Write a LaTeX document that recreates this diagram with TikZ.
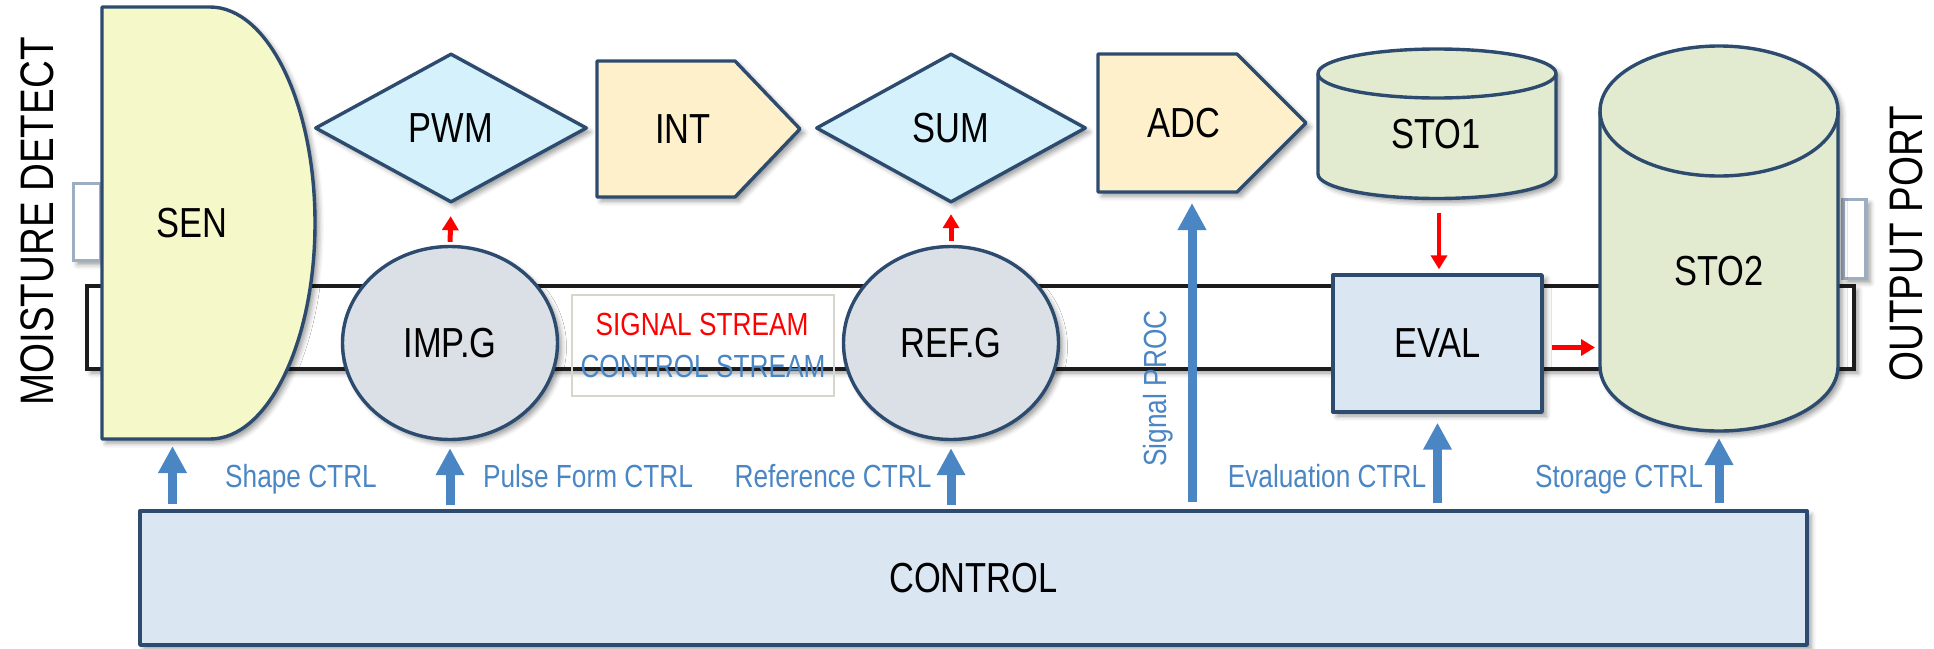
\documentclass[tikz,border=0pt]{standalone}
\usepackage{fontspec}
\setmainfont{Liberation Sans}[FakeStretch=0.82]
\usetikzlibrary{arrows.meta,shapes.geometric,shadows.blur}
\definecolor{bord}{HTML}{2C4B6E}
\definecolor{cblue}{HTML}{4A86C4}
\definecolor{senfill}{HTML}{F5F8C8}
\definecolor{diafill}{HTML}{D4F1FC}
\definecolor{sigfill}{HTML}{FFF0CC}
\definecolor{cylfill}{HTML}{E2EBCF}
\definecolor{ellfill}{HTML}{DBE0E6}
\definecolor{boxfill}{HTML}{DAE6F2}
\definecolor{portbord}{HTML}{9DAEC2}
\definecolor{legbord}{HTML}{D6D6CE}
\definecolor{bandline}{HTML}{1C1C1C}
\begin{document}
\begin{tikzpicture}[x=1pt,y=-1pt,
  shad/.style={blur shadow={shadow xshift=4pt,shadow yshift=-4pt,shadow blur radius=5pt,shadow opacity=40}},
  shp/.style={draw=bord,line width=3.4pt,line join=round,shad},
  hold/.style={draw=none,inner sep=0pt,outer sep=0pt,rectangle},
  main/.style={font=\fontsize{42}{42}\selectfont,inner sep=0pt},
  sm/.style={font=\fontsize{32}{32}\selectfont,anchor=base,inner sep=0pt,text=cblue},
  side/.style={font=\fontsize{47}{47}\selectfont,anchor=base,inner sep=0pt,rotate=90},
  ctrlarr/.style={draw=cblue,line width=9pt,-{Triangle[width=27pt,length=27pt]}},
  sigarr/.style={draw=red,line width=5pt,-{Triangle[width=16pt,length=14pt]}}
]
\useasboundingbox (0,0) rectangle (1934,648);

% band
\node[hold,draw=bandline,line width=3.6pt,fill=white,shad,minimum width=1767pt,minimum height=83pt] (band) at (970.5,327.5) {};

% ports
\node[hold,draw=portbord,line width=3.6pt,fill=white,shad,minimum width=27pt,minimum height=77pt] (pin) at (87,222) {};
\node[hold,draw=portbord,line width=3.6pt,fill=white,shad,minimum width=23pt,minimum height=79pt] (pout) at (1854.5,239) {};

% SEN
\path[shp,fill=senfill] (102,7) -- (210,7) .. controls (268,7) and (315,104) .. (315,223) .. controls (315,342) and (268,439) .. (210,439) -- (102,439) -- cycle;
\node[hold,minimum width=213pt,minimum height=432pt] (sen) at (208.5,223) {};
\node[main] (sentext) at (192,223) {SEN};

% diamonds
\node[diamond,shp,fill=diafill,minimum width=272pt,minimum height=149pt,inner sep=0pt,font=\fontsize{42}{42}\selectfont] (pwm) at (451,128) {PWM};
\node[diamond,shp,fill=diafill,minimum width=270pt,minimum height=149pt,inner sep=0pt,font=\fontsize{42}{42}\selectfont] (sum) at (951,128) {SUM};

% signal shapes
\path[shp,fill=sigfill] (597,61) -- (735,61) -- (800,129) -- (735,197) -- (597,197) -- cycle;
\node[main] (int) at (683,129) {INT};
\path[shp,fill=sigfill] (1098,54) -- (1237,54) -- (1306,123) -- (1237,192) -- (1098,192) -- cycle;
\node[hold,minimum width=208pt,minimum height=138pt] (adc) at (1202,123) {};
\node[main] (adctext) at (1184,123) {ADC};

% cylinders
\path[shp,fill=cylfill] (1318,73.5) -- (1318,174) .. controls (1318,187.5) and (1371.3,198.5) .. (1437,198.5) .. controls (1502.7,198.5) and (1556,187.5) .. (1556,174) -- (1556,73.5) .. controls (1556,60) and (1502.7,49) .. (1437,49) .. controls (1371.3,49) and (1318,60) .. (1318,73.5) -- cycle;
\draw[draw=bord,line width=3.4pt] (1318,73.5) .. controls (1318,87) and (1371.3,98) .. (1437,98) .. controls (1502.7,98) and (1556,87) .. (1556,73.5);
\node[hold,minimum width=238pt,minimum height=149.5pt] (sto1) at (1437,123.75) {};
\node[main] (sto1text) at (1436,134) {STO1};

\path[shp,fill=cylfill] (1600,111) -- (1600,366) .. controls (1600,401.9) and (1653.3,431) .. (1719,431) .. controls (1784.7,431) and (1838,401.9) .. (1838,366) -- (1838,111) .. controls (1838,75.1) and (1784.7,46) .. (1719,46) .. controls (1653.3,46) and (1600,75.1) .. (1600,111) -- cycle;
\draw[draw=bord,line width=3.4pt] (1600,111) .. controls (1600,146.9) and (1653.3,176) .. (1719,176) .. controls (1784.7,176) and (1838,146.9) .. (1838,111);
\node[hold,minimum width=238pt,minimum height=385pt] (sto2) at (1719,238.5) {};
\node[main] (sto2text) at (1719,271) {STO2};

% ellipses
\node[ellipse,shp,fill=ellfill,minimum width=215pt,minimum height=193pt,inner sep=0pt,font=\fontsize{42}{42}\selectfont] (imp) at (450,343) {IMP.G};
\node[ellipse,shp,fill=ellfill,minimum width=215pt,minimum height=193pt,inner sep=0pt,font=\fontsize{42}{42}\selectfont] (ref) at (951,343) {REF.G};

% boxes
\node[rectangle,shp,fill=boxfill,minimum width=209pt,minimum height=137pt,font=\fontsize{42}{42}\selectfont] (eval) at (1437.5,343.5) {EVAL};
\node[rectangle,shp,fill=boxfill,minimum width=1667pt,minimum height=134pt,font=\fontsize{42}{42}\selectfont] (ctrl) at (973.5,578) {CONTROL};

% legend
\node[hold,draw=legbord,line width=2pt,minimum width=262pt,minimum height=101pt] (legend) at (703,345.5) {};
\node[sm,text=red] (sigs) at (702,335) {SIGNAL STREAM};
\node[sm] (ctrls) at (703,377) {CONTROL STREAM};

% side labels
\node[side] (moist) at (53,221.5) {MOISTURE DETECT};
\node[side] (outp) at (1922,244) {OUTPUT PORT};

% control labels
\node[sm] (lshape) at (301,487) {Shape CTRL};
\node[sm] (lpulse) at (588,487) {Pulse Form CTRL};
\node[sm] (lref) at (833,487) {Reference CTRL};
\node[sm] (leval) at (1327,487) {Evaluation CTRL};
\node[sm] (lsto) at (1619,487) {Storage CTRL};
\node[sm,rotate=90] (lproc) at (1166,388.5) {Signal PROC};

% control arrows
\coordinate (senin) at ([xshift=-36pt]sen.south);
\coordinate (adcin) at ([xshift=-10pt]adc.south);
\draw[ctrlarr,shorten <=5pt,shorten >=7pt] (ctrl.north -| senin) -- (senin);
\draw[ctrlarr,shorten <=4pt,shorten >=7pt] (ctrl.north -| imp.south) -- (imp.south);
\draw[ctrlarr,shorten <=4pt,shorten >=7pt] (ctrl.north -| ref.south) -- (ref.south);
\draw[ctrlarr,shorten <=7pt,shorten >=11pt] (ctrl.north -| adcin) -- (adcin);
\draw[ctrlarr,shorten <=6pt,shorten >=9pt] (ctrl.north -| eval.south) -- (eval.south);
\draw[ctrlarr,shorten <=6pt,shorten >=7pt] (ctrl.north -| sto2.south) -- (sto2.south);

% signal arrows
\draw[sigarr,shorten <=3pt,shorten >=12pt] (imp.north) -- (pwm.south);
\draw[sigarr,shorten <=4pt,shorten >=10pt] (ref.north) -- (sum.south);
\draw[sigarr,line width=4.5pt,shorten <=14.5pt,shorten >=4pt] ([xshift=2pt]sto1.south) -- ([xshift=2pt]sto1.south |- eval.north);
\draw[sigarr,shorten <=8pt,shorten >=5pt] ([yshift=-4pt]eval.east) -- ([yshift=-4pt]eval.east -| sto2.west);
\end{tikzpicture}
\end{document}
